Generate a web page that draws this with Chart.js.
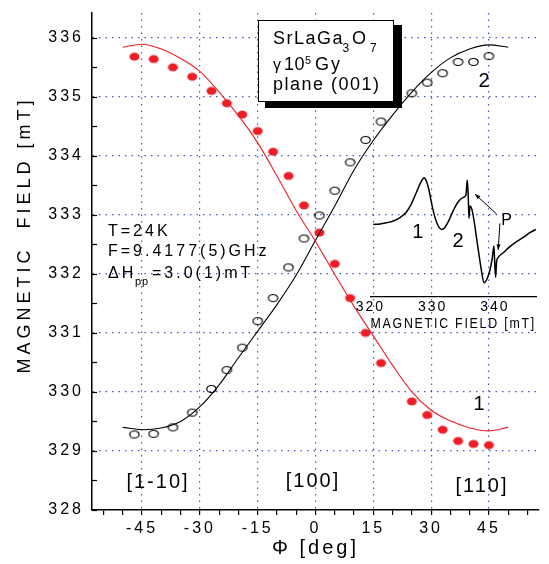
<!DOCTYPE html>
<html>
<head>
<meta charset="utf-8">
<script src="https://cdn.jsdelivr.net/npm/chart.js@4.4.1/dist/chart.umd.min.js"></script>
<style>
  body { margin: 0; background: #fff; }
  #wrap { position: relative; width: 549px; height: 564px; }
  canvas { position: absolute; }
</style>
</head>
<body>
<div id="wrap">
  <canvas id="main" width="549" height="564" style="left:0;top:0"></canvas>
  <canvas id="inset" width="209" height="190" style="left:340px;top:150px"></canvas>
</div>
<script>
// measured points, line 1 (filled) and line 2 (open)
const phi = [-47, -42, -37, -32, -27, -23, -19, -15, -11, -7, -3, 1, 5, 9, 13, 17, 25, 29, 33, 37, 41, 45];
const field1 = [335.68, 335.64, 335.50, 335.34, 335.10, 334.89, 334.70, 334.42, 334.07, 333.66, 333.16, 332.70,
                332.17, 331.59, 331.00, 330.49, 329.84, 329.61, 329.36, 329.17, 329.12, 329.10];
const field2 = [329.28, 329.29, 329.40, 329.65, 330.05, 330.37, 330.75, 331.20, 331.59, 332.11, 332.60, 332.99,
                333.41, 333.89, 334.27, 334.58, 335.06, 335.24, 335.40, 335.59, 335.59, 335.69];

// fitted curves, read every 5 deg
const phiFit = [-50, -45, -40, -35, -30, -25, -20, -15, -10, -5, 0, 5, 10, 15, 20, 25, 30, 35, 40, 45, 50];
const fit1 = [335.84, 335.89, 335.81, 335.65, 335.43, 335.08, 334.68, 334.22, 333.66, 333.07, 332.55, 331.99,
              331.45, 330.95, 330.45, 330.00, 329.69, 329.51, 329.39, 329.34, 329.40];
const fit2 = [329.40, 329.36, 329.39, 329.50, 329.75, 330.12, 330.58, 331.03, 331.48, 331.98, 332.57, 333.15,
              333.76, 334.26, 334.69, 335.08, 335.41, 335.66, 335.81, 335.88, 335.84];

// axis ticks
const xTicks = [-55, -50, -45, -40, -35, -30, -25, -20, -15, -10, -5, 0, 5, 10, 15, 20, 25, 30, 35, 40, 45, 50, 55];
const xLabels = [-45, -30, -15, 0, 15, 30, 45];
const yTicks = [328, 328.5, 329, 329.5, 330, 330.5, 331, 331.5, 332, 332.5, 333, 333.5, 334, 334.5, 335, 335.5, 336];

// inset EPR spectrum
const specField = [320.47, 321.54, 322.61, 323.68, 324.75, 325.82, 326.62, 327.43, 328.23, 328.6, 329.03, 329.41,
                   329.83, 330.37, 330.9, 331.44, 331.97, 332.51, 333.31, 334.11, 334.92, 335.35, 335.56, 335.72,
                   335.83, 335.99, 336.26, 336.63, 337.06, 337.49, 337.91, 338.23, 338.66, 339.2, 339.57, 339.84,
                   339.95, 340.11, 340.27, 340.53, 341.34, 342.41, 343.48, 344.55, 345.62, 346.58];
const specAmp = [72.3, 72.7, 74, 75.7, 79, 85, 93.3, 105, 116, 119, 115, 106.7,
                 93.3, 79.3, 70.7, 67.3, 69.3, 75, 86, 95, 99.3, 101.7, 116.7, 100,
                 78.3, 90.7, 88.3, 76.7, 58.3, 40, 23.3, 14, 16.7, 26.7, 38.3, 50.7,
                 36.7, 19.3, 35, 39.3, 44, 50, 55, 59.3, 64, 67.3];
const insetTicks = [320, 330, 340];

const FONT = "'Liberation Sans', Arial, Helvetica, sans-serif";
const gridBlue = '#4257c8';
const red = '#ee1d26';

Chart.defaults.font.family = FONT;
Chart.defaults.color = '#000';

function ellipse(rx, ry, fill, stroke) {
  const c = document.createElement('canvas');
  c.width = Math.ceil(rx * 2 + 3);
  c.height = Math.ceil(ry * 2 + 3);
  const g = c.getContext('2d');
  g.beginPath();
  g.ellipse(c.width / 2, c.height / 2, rx, ry, 0, 0, Math.PI * 2);
  if (fill) { g.fillStyle = fill; g.fill(); }
  if (stroke) { g.strokeStyle = stroke; g.lineWidth = 1.2; g.stroke(); }
  return c;
}

function txt(ctx, s, x, y, size, spacing, align) {
  ctx.save();
  ctx.font = size + 'px ' + FONT;
  ctx.letterSpacing = spacing + 'px';
  ctx.fillStyle = '#000';
  ctx.textAlign = align || 'left';
  ctx.textBaseline = 'alphabetic';
  ctx.fillText(s, x, y);
  ctx.restore();
}

const decor = {
  id: 'decor',
  beforeDraw(chart) { chart.ctx.letterSpacing = '3px'; },
  afterDraw(chart) {
    const ctx = chart.ctx;
    const ys = chart.scales.y;
    // inward ticks on the y axis
    ctx.save();
    ctx.strokeStyle = '#000';
    ctx.lineWidth = 1.2;
    ys.ticks.forEach(t => {
      const py = Math.round(ys.getPixelForValue(t.value)) + 0.5;
      ctx.beginPath();
      ctx.moveTo(ys.right, py);
      ctx.lineTo(ys.right + 5, py);
      ctx.stroke();
    });
    ctx.restore();

    // y title
    ctx.save();
    ctx.translate(30, 235);
    ctx.rotate(-Math.PI / 2);
    txt(ctx, 'MAGNETIC  FIELD [mT]', 0, 0, 18, 4, 'center');
    ctx.restore();

    // sample box with shadow
    ctx.save();
    ctx.fillStyle = '#000';
    ctx.fillRect(265, 25, 137, 83);
    ctx.fillStyle = '#fff';
    ctx.fillRect(258, 20, 136, 82);
    ctx.strokeStyle = '#000';
    ctx.lineWidth = 1;
    ctx.strokeRect(258.5, 20.5, 135, 81);
    ctx.restore();
    txt(ctx, 'SrLaGa', 273, 43.5, 18, 1.5);
    txt(ctx, '3', 342.5, 51.5, 12, 0);
    txt(ctx, 'O', 352, 43.5, 18, 1.5);
    txt(ctx, '7', 370, 51.5, 12, 0);
    txt(ctx, 'γ', 273, 69.5, 16, 0);
    txt(ctx, '10', 284, 69.5, 18, 0.5);
    txt(ctx, '5', 305, 64, 11, 0);
    txt(ctx, 'Gy', 315, 69.5, 18, 2);
    txt(ctx, 'plane (001)', 273, 90, 18, 1.5);

    // conditions
    txt(ctx, 'T=24K', 108, 235.5, 16, 3);
    txt(ctx, 'F=9.4177(5)GHz', 108, 256, 16, 3);
    txt(ctx, 'ΔH', 108, 278, 16, 3);
    txt(ctx, 'pp', 135, 285, 11, 1);
    txt(ctx, '=3.0(1)mT', 152, 278, 16, 3);

    // directions and line labels
    txt(ctx, '[1-10]', 158, 488, 20, 2, 'center');
    txt(ctx, '[100]', 313, 487, 20, 2, 'center');
    txt(ctx, '[110]', 482, 492, 20, 2, 'center');
    txt(ctx, '1', 479, 410, 20, 0, 'center');
    txt(ctx, '2', 484, 87, 20, 0, 'center');
  }
};

const pts = (xs, ys) => xs.map((x, i) => ({x: x, y: ys[i]}));

new Chart(document.getElementById('main'), {
  type: 'scatter',
  data: {
    datasets: [
      {data: pts(phiFit, fit1), showLine: true, pointRadius: 0, borderColor: red, borderWidth: 1.1,
       cubicInterpolationMode: 'monotone'},
      {data: pts(phiFit, fit2), showLine: true, pointRadius: 0, borderColor: '#000', borderWidth: 1.1,
       cubicInterpolationMode: 'monotone'},
      {data: pts(phi, field1), pointStyle: ellipse(5, 4, red, null), pointRadius: 5},
      {data: pts(phi, field2), pointStyle: ellipse(4.7, 3.5, null, '#000'), pointRadius: 5}
    ]
  },
  options: {
    responsive: false,
    animation: false,
    events: [],
    layout: {padding: {left: 0, right: 10, top: 13, bottom: 0}},
    plugins: {legend: {display: false}, tooltip: {enabled: false}},
    scales: {
      x: {
        type: 'linear', min: -58, max: 58,
        afterBuildTicks: s => { s.ticks = xTicks.map(v => ({value: v})); },
        afterFit: s => { s.height = 54; s.paddingLeft = 0; s.paddingRight = 0; },
        ticks: {autoSkip: false, maxRotation: 0, padding: 4, font: {size: 16},
                callback: v => xLabels.includes(v) ? String(v) : ''},
        grid: {color: c => (c.tick && xLabels.includes(c.tick.value)) ? gridBlue : 'transparent',
               lineWidth: 1.2, tickColor: '#000', tickLength: 5, tickWidth: 1.2},
        border: {color: '#000', width: 1.5, dash: [1.5, 5]},
        title: {display: true, text: 'Φ [deg]', font: {size: 20}, padding: {top: 0, bottom: 4}}
      },
      y: {
        type: 'linear', min: 328, max: 336.42,
        afterBuildTicks: s => { s.ticks = yTicks.map(v => ({value: v})); },
        afterFit: s => { s.width = 92; s.paddingTop = 0; s.paddingBottom = 0; },
        ticks: {padding: 0, font: {size: 16}, callback: v => Number.isInteger(v) ? String(v) : ''},
        grid: {color: c => (c.tick && Number.isInteger(c.tick.value) && c.tick.value > 328) ? gridBlue : 'transparent',
               lineWidth: 1.2, tickColor: 'transparent', tickLength: 8},
        border: {color: '#000', width: 1.5, dash: [1.5, 5]}
      }
    }
  },
  plugins: [decor]
});

const insetDecor = {
  id: 'insetDecor',
  beforeDraw(chart) { chart.ctx.letterSpacing = '2px'; },
  afterDraw(chart) {
    const ctx = chart.ctx;
    const xs = chart.scales.x, ys = chart.scales.y;
    const P = (f, a) => [xs.getPixelForValue(f), ys.getPixelForValue(a)];
    const arrow = (from, to) => {
      const [x1, y1] = P(from[0], from[1]);
      const [x2, y2] = P(to[0], to[1]);
      ctx.save();
      ctx.strokeStyle = '#000';
      ctx.fillStyle = '#000';
      ctx.lineWidth = 1;
      ctx.beginPath(); ctx.moveTo(x1, y1); ctx.lineTo(x2, y2); ctx.stroke();
      const a = Math.atan2(y2 - y1, x2 - x1);
      ctx.beginPath();
      ctx.moveTo(x2, y2);
      ctx.lineTo(x2 - 6 * Math.cos(a - 0.35), y2 - 6 * Math.sin(a - 0.35));
      ctx.lineTo(x2 - 6 * Math.cos(a + 0.35), y2 - 6 * Math.sin(a + 0.35));
      ctx.closePath(); ctx.fill();
      ctx.restore();
    };
    arrow([340.27, 82.7], [336.79, 102.7]);
    arrow([340.8, 73.3], [340.53, 46.7]);
    let p = P(341.87, 72);
    txt(ctx, 'P', p[0], p[1], 16, 0, 'center');
    p = P(327.6, 59);
    txt(ctx, '1', p[0], p[1], 20, 0, 'center');
    p = P(334.1, 50);
    txt(ctx, '2', p[0], p[1], 20, 0, 'center');
  }
};

new Chart(document.getElementById('inset'), {
  type: 'scatter',
  data: {
    datasets: [{data: pts(specField, specAmp), showLine: true, pointRadius: 0, borderColor: '#000',
                borderWidth: 1.5, cubicInterpolationMode: 'monotone'}]
  },
  options: {
    responsive: false,
    animation: false,
    events: [],
    layout: {padding: {left: 30.4, right: 13, top: 16.7, bottom: 0}},
    plugins: {legend: {display: false}, tooltip: {enabled: false}},
    scales: {
      x: {
        type: 'linear', min: 320, max: 346.6,
        afterBuildTicks: s => { s.ticks = insetTicks.map(v => ({value: v})); },
        afterFit: s => { s.height = 43.3; s.paddingLeft = 0; s.paddingRight = 0; },
        grid: {display: false, drawTicks: false},
        border: {color: '#000', width: 1.2},
        ticks: {padding: 2, font: {size: 14}, maxRotation: 0},
        title: {display: true, text: 'MAGNETIC FIELD [mT]', font: {size: 14}, padding: {top: 0, bottom: 7}}
      },
      y: {display: false, min: 0, max: 130}
    }
  },
  plugins: [insetDecor]
});
</script>
</body>
</html>
